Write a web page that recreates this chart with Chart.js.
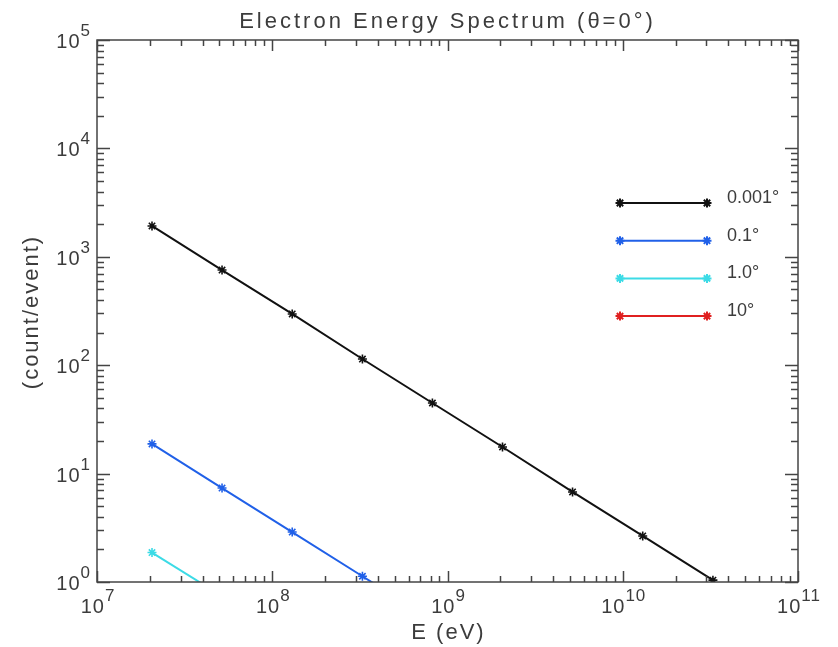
<!DOCTYPE html>
<html>
<head>
<meta charset="utf-8">
<script src="https://cdn.jsdelivr.net/npm/chart.js@4/dist/chart.umd.min.js"></script>
<style>
  html, body { margin: 0; padding: 0; background: #fff; }
</style>
</head>
<body>
<canvas id="spectrum" width="838" height="647"></canvas>
<script>
// energies (eV) of the sampled bins
const energies = [2.06e7, 5.17e7, 1.30e8, 3.27e8, 8.2e8, 2.06e9, 5.17e9, 1.30e10, 3.27e10];
// counts per event for each opening angle
const counts0001 = [1925, 755, 297, 114, 44.8, 17.6, 6.77, 2.66, 1.04];
const counts01 = [18.8, 7.36, 2.89, 1.13, 0.44];
const counts10 = [1.87, 0.74];
const counts100 = [0.19, 0.075];
const angleLabels = ['0.001°', '0.1°', '1.0°', '10°'];
const lineColors = ['#111111', '#2060e8', '#3cdbe6', '#e02020'];

const xRange = [1e7, 1e11];
const yRange = [1, 1e5];

const TEXT = '#3c3c3c';
const FONT = '"Liberation Sans", Arial, sans-serif';

const toPoints = (vals) => vals.map((v, i) => ({ x: energies[i], y: v }));

const makeSet = (label, vals, color) => ({
    label: label,
    data: toPoints(vals),
    borderColor: color,
    backgroundColor: color,
    borderWidth: 2,
    pointStyle: 'star',
    pointRadius: 4.5,
    pointBorderWidth: 1.6,
    pointBorderColor: color,
    fill: false,
    tension: 0
});

const decadeValues = (lo, hi) => {
    const out = [];
    for (let d = Math.floor(Math.log10(lo)); d <= Math.ceil(Math.log10(hi)); d++) {
        for (let k = 1; k <= 9; k++) {
            const v = k * Math.pow(10, d);
            if (v >= lo * 0.999 && v <= hi * 1.001) out.push({ v: v, major: k === 1, d: d });
        }
    }
    return out;
};

// draws "10" with a raised exponent
const drawPower = (ctx, exp, x, y, align) => {
    ctx.letterSpacing = '1px';
    ctx.font = '20px ' + FONT;
    const baseW = ctx.measureText('10').width;
    ctx.font = '17px ' + FONT;
    const expW = ctx.measureText(String(exp)).width;
    const total = baseW + expW;
    let left = x;
    if (align === 'center') left = x - total / 2;
    if (align === 'right') left = x - total;
    ctx.textAlign = 'left';
    ctx.textBaseline = 'alphabetic';
    ctx.font = '20px ' + FONT;
    ctx.fillText('10', left, y);
    ctx.font = '17px ' + FONT;
    ctx.fillText(String(exp), left + baseW, y - 12);
    ctx.letterSpacing = '0px';
};

const idlAxes = {
    id: 'idlAxes',
    afterDatasetsDraw(chart) {
        const { ctx, chartArea: a, scales: { x, y } } = chart;
        ctx.save();
        ctx.strokeStyle = '#444';
        ctx.lineWidth = 1.5;
        ctx.strokeRect(a.left, a.top, a.right - a.left, a.bottom - a.top);

        ctx.beginPath();
        decadeValues(xRange[0], xRange[1]).forEach(t => {
            const px = Math.round(x.getPixelForValue(t.v)) + 0.5;
            const len = t.major ? 11 : 6;
            ctx.moveTo(px, a.bottom); ctx.lineTo(px, a.bottom - len);
            ctx.moveTo(px, a.top); ctx.lineTo(px, a.top + len);
        });
        decadeValues(yRange[0], yRange[1]).forEach(t => {
            const py = Math.round(y.getPixelForValue(t.v)) + 0.5;
            const len = t.major ? 13 : 7;
            ctx.moveTo(a.left, py); ctx.lineTo(a.left + len, py);
            ctx.moveTo(a.right, py); ctx.lineTo(a.right - len, py);
        });
        ctx.stroke();

        // tick labels
        ctx.fillStyle = TEXT;
        decadeValues(xRange[0], xRange[1]).filter(t => t.major).forEach(t => {
            drawPower(ctx, t.d, x.getPixelForValue(t.v) + 1, a.bottom + 31, 'center');
        });
        decadeValues(yRange[0], yRange[1]).filter(t => t.major).forEach(t => {
            drawPower(ctx, t.d, a.left - 6, y.getPixelForValue(t.v) + 8, 'right');
        });

        // titles
        ctx.textAlign = 'center';
        ctx.textBaseline = 'alphabetic';
        ctx.font = '22px ' + FONT;
        ctx.letterSpacing = '3px';
        ctx.fillText('Electron Energy Spectrum (θ=0°)', (a.left + a.right) / 2, 28);
        ctx.letterSpacing = '2px';
        ctx.fillText('E (eV)', (a.left + a.right) / 2 + 1, 639);
        ctx.save();
        ctx.translate(38, 312);
        ctx.rotate(-Math.PI / 2);
        ctx.fillText('(count/event)', 0, 0);
        ctx.restore();
        ctx.letterSpacing = '0px';

        // legend: line with a star at each end, label to the right
        chart.data.datasets.forEach((ds, i) => {
            const ly = 203 + i * 37.7;
            const x0 = 620, x1 = 707;
            ctx.strokeStyle = ds.borderColor;
            ctx.lineWidth = 2;
            ctx.beginPath();
            ctx.moveTo(x0, ly); ctx.lineTo(x1, ly);
            ctx.stroke();
            [x0, x1].forEach(px => {
                Chart.helpers.drawPoint(ctx, {
                    pointStyle: 'star', radius: 4.5, borderWidth: 1.6
                }, px, ly);
            });
            ctx.fillStyle = TEXT;
            ctx.font = '18px ' + FONT;
            ctx.textAlign = 'left';
            ctx.textBaseline = 'middle';
            ctx.fillText(ds.label, 727, ly - 5);
        });
        ctx.restore();
    }
};

const config = {
    type: 'line',
    data: {
        datasets: [
            makeSet(angleLabels[0], counts0001, lineColors[0]),
            makeSet(angleLabels[1], counts01, lineColors[1]),
            makeSet(angleLabels[2], counts10, lineColors[2]),
            makeSet(angleLabels[3], counts100, lineColors[3])
        ]
    },
    options: {
        responsive: false,
        animation: false,
        layout: { padding: { left: 97, right: 40, top: 40, bottom: 65 } },
        plugins: {
            legend: { display: false },
            title: { display: false },
            tooltip: { enabled: false }
        },
        scales: {
            x: {
                type: 'logarithmic',
                min: xRange[0],
                max: xRange[1],
                grid: { display: false },
                border: { display: false },
                ticks: { display: false },
                afterFit: s => { s.height = 0; }
            },
            y: {
                type: 'logarithmic',
                min: yRange[0],
                max: yRange[1],
                grid: { display: false },
                border: { display: false },
                ticks: { display: false },
                afterFit: s => { s.width = 0; }
            }
        }
    },
    plugins: [idlAxes]
};

const spectrumChart = new Chart(document.getElementById('spectrum'), config);
</script>
</body>
</html>
